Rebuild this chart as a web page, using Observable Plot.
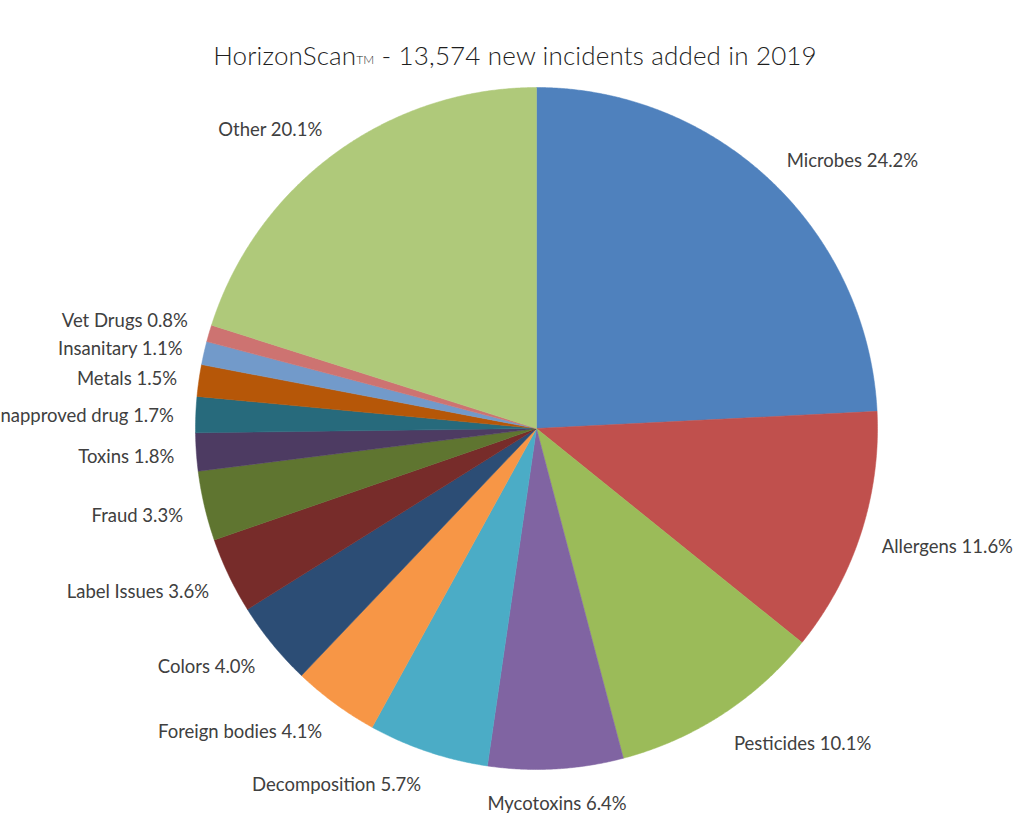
<!DOCTYPE html>
<html>
<head>
<meta charset="utf-8">
<script src="https://cdn.jsdelivr.net/npm/d3@7"></script>
<script src="https://cdn.jsdelivr.net/npm/@observablehq/plot@0.6"></script>
<style>
  html, body { margin: 0; padding: 0; background: #fff; overflow: hidden; }
  #title { height: 80px; box-sizing: border-box; padding-top: 40px; text-align: center;
           font-family: Lato, "Open Sans", sans-serif; font-size: 26px; line-height: 30px; color: #1e1e1e; font-weight: 300; letter-spacing: 0.15px; }
  #title .tm { font-size: 12px; vertical-align: 1px; }
  #chart svg { display: block; }
</style>
</head>
<body>
<div id="title">HorizonScan<span class="tm">TM</span> - 13,574 new incidents added in 2019</div>
<div id="chart"></div>
<script>
const categories = ["Microbes","Allergens","Pesticides","Mycotoxins","Decomposition","Foreign bodies","Colors","Label Issues","Fraud","Toxins","Unapproved drug","Metals","Insanitary","Vet Drugs","Other"];
const shares = [24.2, 11.6, 10.1, 6.4, 5.7, 4.1, 4.0, 3.6, 3.3, 1.8, 1.7, 1.5, 1.1, 0.8, 20.1];
const colors = ["#4F81BD","#C0504D","#9BBB59","#8064A2","#4BACC6","#F79646","#2C4D75","#772C2A","#5F7530","#4D3B62","#276A7C","#B65708","#729ACA","#CD7371","#AFC97A"];

const W = 1030, H = 744, cx = 536, cy = 348, R = 341, labelGap = 22, minSpacing = 28;

const rows = categories.map((c, i) => ({cat: c, value: shares[i]}));
const arcs = d3.pie().sort(null).value(d => d.value)(rows);

// slice outlines (center + arc samples)
const slicePts = [];
for (const a of arcs) {
  const n = Math.max(2, Math.ceil((a.endAngle - a.startAngle) / 0.005));
  slicePts.push({cat: a.data.cat, x: cx, y: cy});
  for (let k = 0; k <= n; k++) {
    const t = a.startAngle + (a.endAngle - a.startAngle) * k / n;
    slicePts.push({cat: a.data.cat, x: cx + R * Math.sin(t), y: cy - R * Math.cos(t)});
  }
  slicePts.push({cat: a.data.cat, x: cx, y: cy});
}

// labels
const labels = arcs.map(a => {
  const m = (a.startAngle + a.endAngle) / 2;
  const s = Math.sin(m), c = Math.cos(m);
  const r = R + labelGap;
  return {
    text: `${a.data.cat} ${a.data.value.toFixed(1)}%`,
    x: cx + r * s,
    y: cy - r * c - c * 10 + 3,
    anchor: s > 0.2 ? "start" : s < -0.2 ? "end" : "middle",
    side: s < 0 ? "left" : "right"
  };
});
// resolve overlaps on the left side (push upward)
const left = labels.filter(d => d.side === "left").sort((a, b) => b.y - a.y);
for (let i = 1; i < left.length; i++) {
  if (left[i - 1].y - left[i].y < minSpacing && Math.abs(left[i-1].x - left[i].x) < 120) {
    left[i].y = left[i - 1].y - minSpacing;
  }
}

const font = {fontFamily: "Lato, 'Open Sans', sans-serif", fontSize: 18.5, fill: "#404040"};
const textMark = anchor => Plot.text(labels.filter(d => d.anchor === anchor),
  {x: "x", y: "y", text: "text", textAnchor: anchor, lineAnchor: "middle", ...font});

const chart = Plot.plot({
  width: W, height: H,
  margin: 0,
  x: {type: "linear", domain: [0, W], range: [0, W], axis: null},
  y: {type: "linear", domain: [0, H], range: [0, H], axis: null},
  color: {domain: categories, range: colors},
  marks: [
    Plot.line(slicePts, {x: "x", y: "y", z: "cat", fill: "cat", stroke: "cat", strokeWidth: 0.5, curve: "linear"}),
    textMark("start"), textMark("middle"), textMark("end")
  ]
});
document.getElementById("chart").appendChild(chart);
</script>
</body>
</html>
